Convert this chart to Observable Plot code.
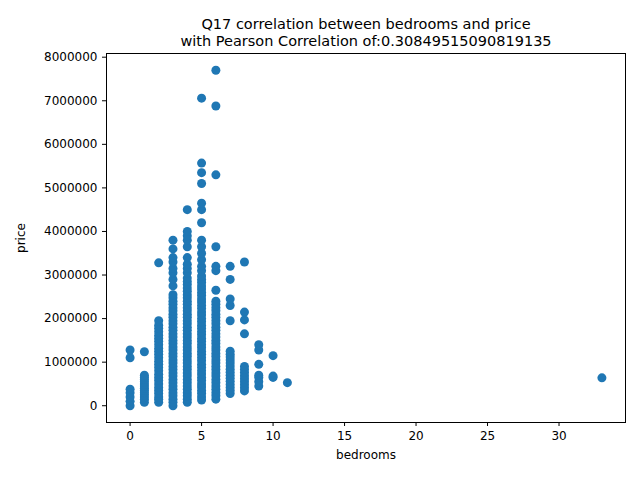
<!DOCTYPE html>
<html>
<head>
<meta charset="utf-8">
<script src="https://cdn.jsdelivr.net/npm/d3@7"></script>
<script src="https://cdn.jsdelivr.net/npm/@observablehq/plot@0.6"></script>
<style>body{margin:0;background:#fff}</style>
</head>
<body>
<div id="chart"></div>
<script>
// prices, grouped by number of bedrooms
const bedrooms = [0, 1, 2, 3, 4, 5, 6, 7, 8, 9, 10, 11, 33]
const prices = [
  [0, 100000, 200000, 300000, 380000, 1100000, 1280000],
  [80000, 150000, 200000, 250000, 300000, 350000, 400000, 450000, 500000, 550000, 600000, 650000, 700000, 1240000],
  [80000, 150000, 200000, 280000, 350000, 420000, 500000, 580000, 650000, 720000, 800000, 880000, 950000, 1020000, 1100000, 1180000, 1250000, 1320000, 1400000, 1480000, 1550000, 1620000, 1700000, 1780000, 1850000, 1950000, 3280000],
  [0, 80000, 150000, 230000, 300000, 380000, 450000, 530000, 600000, 680000, 750000, 830000, 900000, 980000, 1050000, 1130000, 1200000, 1280000, 1350000, 1430000, 1500000, 1580000, 1650000, 1730000, 1800000, 1880000, 1950000, 2030000, 2100000, 2180000, 2250000, 2330000, 2400000, 2480000, 2550000,
   2750000, 2900000, 3050000, 3150000, 3300000, 3400000, 3600000, 3800000],
  [80000, 150000, 230000, 300000, 380000, 450000, 530000, 600000, 680000, 750000, 830000, 900000, 980000, 1050000, 1130000, 1200000, 1280000, 1350000, 1430000, 1500000, 1580000, 1650000, 1730000, 1800000, 1880000, 1950000, 2030000, 2100000, 2180000, 2250000, 2330000, 2400000, 2480000, 2550000, 2630000, 2700000, 2780000, 2850000, 2930000,
   3050000, 3150000, 3250000, 3400000, 3650000, 3800000, 3900000, 4000000, 4500000],
  [130000, 200000, 280000, 350000, 430000, 500000, 580000, 650000, 730000, 800000, 880000, 950000, 1030000, 1100000, 1180000, 1250000, 1330000, 1400000, 1480000, 1550000, 1630000, 1700000, 1780000, 1850000, 1930000, 2000000, 2080000, 2150000, 2230000, 2300000, 2380000, 2450000, 2530000, 2600000, 2680000, 2750000, 2830000, 2900000, 2980000,
   3100000, 3200000, 3350000, 3500000, 3650000, 3800000, 4200000, 4500000, 4650000, 5100000, 5350000, 5570000, 7060000],
  [150000, 230000, 300000, 380000, 450000, 530000, 600000, 680000, 750000, 830000, 900000, 980000, 1050000, 1130000, 1200000, 1280000, 1350000, 1430000, 1500000, 1580000, 1650000, 1730000, 1800000, 1880000, 1950000, 2030000, 2100000, 2180000, 2250000, 2330000, 2400000,
   2650000, 3100000, 3200000, 3650000, 5300000, 6880000, 7700000],
  [280000, 350000, 420000, 490000, 560000, 630000, 700000, 770000, 840000, 910000, 980000, 1050000, 1120000, 1180000, 1250000, 1950000, 2300000, 2450000, 2900000, 3200000],
  [340000, 410000, 480000, 550000, 620000, 690000, 760000, 830000, 900000, 1650000, 1970000, 2150000, 3300000],
  [450000, 550000, 650000, 700000, 950000, 1280000, 1400000],
  [650000, 680000, 1150000],
  [530000],
  [640000]
]
const title = "Q17 correlation between bedrooms and price\nwith Pearson Correlation of:0.30849515090819135"

const data = bedrooms.flatMap((b, i) => prices[i].map(p => ({bedrooms: b, price: p})))

let chart = Plot.plot({
  width: 640,
  height: 480,
  marginLeft: 106,
  marginRight: 15,
  marginTop: 53,
  marginBottom: 58,
  style: {fontFamily: "DejaVu Sans", fontSize: "12px", color: "#000", background: "#fff"},
  x: {domain: [-1.65, 34.65], ticks: [0, 5, 10, 15, 20, 25, 30], tickSize: 4, label: "bedrooms", labelArrow: "none", labelAnchor: "center", labelOffset: 36},
  y: {domain: [-385000, 8085000], ticks: d3.range(0, 8000001, 1000000), tickFormat: d => String(d), tickSize: 4, label: "price", labelArrow: "none", labelAnchor: "center", labelOffset: 90},
  marks: [
    Plot.frame({stroke: "#000"}),
    Plot.dot(data, {x: "bedrooms", y: "price", r: 4.5, fill: "#1f77b4", stroke: "none"}),
    Plot.text([title], {frameAnchor: "top", dy: -36, text: d => d, fontSize: 14.5, lineHeight: 1.15, fill: "#000"})
  ]
})
d3.select('#chart').append(() => chart)
</script>
</body>
</html>
